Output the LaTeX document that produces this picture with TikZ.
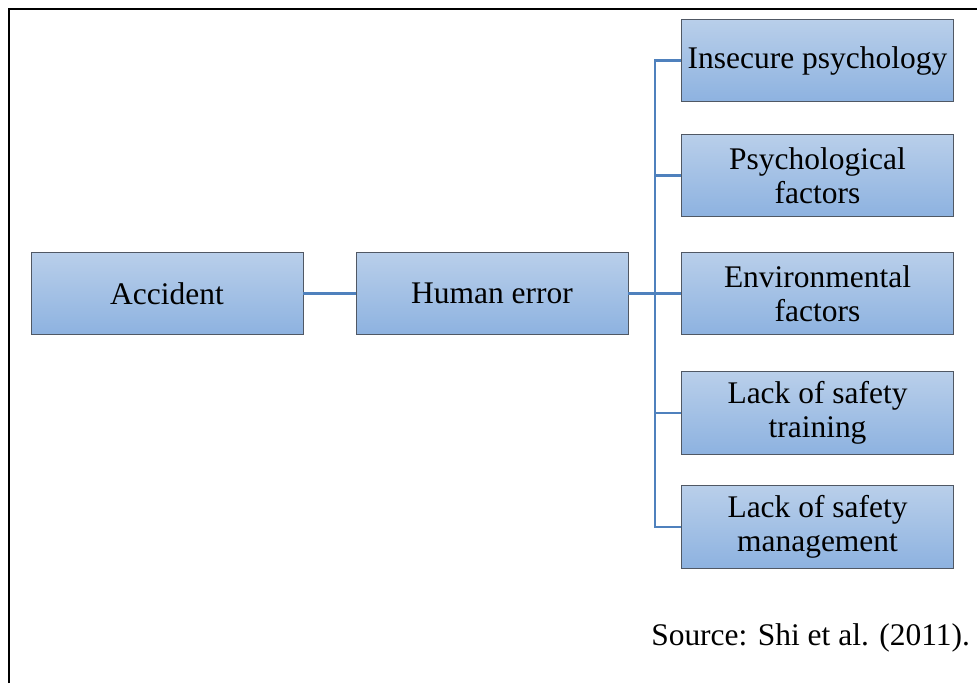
\documentclass[tikz,border=0pt]{standalone}
\usepackage{fontspec}
\setmainfont{Liberation Serif}
\definecolor{linkblue}{RGB}{79,129,189}
\definecolor{boxtop}{RGB}{185,207,234}
\definecolor{boxbot}{RGB}{141,178,224}
\definecolor{boxline}{RGB}{80,88,100}

\begin{document}
\begin{tikzpicture}[x=0.75pt, y=-0.75pt,
		factor/.style={rectangle, draw=boxline, line width=0.6pt, top color=boxtop, bottom color=boxbot,
			minimum width=204pt, minimum height=62pt, inner sep=0pt, align=center,
			font=\fontsize{23.6}{25.5}\selectfont},
		link/.style={draw=linkblue, line width=2.2pt}]
			\useasboundingbox (0, 0) rectangle (977, 683);
			% Frame:
			\draw[line width=1.5pt] (9, 683) -- (9, 9) -- (977, 9);
			% Boxes:
			\node[factor] (acc) at (167, 293.5) {Accident};
			\node[factor] (hum) at (492, 293.5) {Human error};
			\node[factor] (ins) at (817.5, 60.5) {Insecure psychology};
			\node[factor] (psy) at (817.5, 175.5) {Psychological\\factors};
			\node[factor] (env) at (817.5, 293.5) {Environmental\\factors};
			\node[factor] (trn) at (817.5, 413) {Lack of safety\\training};
			\node[factor] (mgt) at (817.5, 527) {Lack of safety\\management};
			% Links:
			\coordinate (trunk) at (655, 293.5);
			\draw[link] (acc) -- (hum);
			\draw[link] (hum) -- (env);
			\foreach \n in {ins, psy, trn, mgt}
				\draw[link] (\n.west) -| (trunk);
			% Source:
			\node[anchor=base west, inner sep=0pt, font=\fontsize{23.6}{25.5}\selectfont] (src) at (651, 645) {Source: Shi et al. (2011).};
		\end{tikzpicture}
\end{document}
